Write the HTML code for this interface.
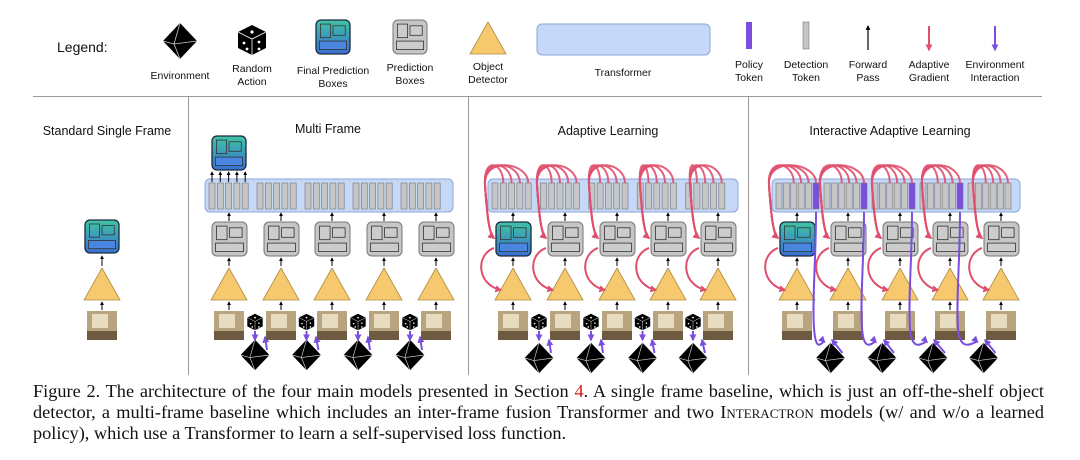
<!DOCTYPE html>
<html><head><meta charset="utf-8"><style>
html,body{margin:0;padding:0;background:#fff;}
svg{display:block;}
.s{font-family:"Liberation Sans",sans-serif;fill:#111;}
.cap{position:absolute;left:33px;width:1011px;top:381px;font-family:"Liberation Serif",serif;font-size:18.3px;line-height:21px;color:#111;}
.cap div{text-align:justify;text-align-last:justify;white-space:nowrap;}
.cap div.l{text-align-last:left;}
.sc{font-variant:small-caps;}
</style></head><body>
<div style="position:relative;width:1080px;height:460px;overflow:hidden">
<svg id="g" width="1080" height="460" viewBox="0 0 1080 460">
<defs>
<linearGradient id="fg" x1="0" y1="0" x2="0" y2="1"><stop offset="0" stop-color="#3fc4a4"/><stop offset="1" stop-color="#3a6fd0"/></linearGradient>
<marker id="ab" viewBox="0 0 10 10" refX="8" refY="5" markerWidth="4" markerHeight="4" orient="auto"><path d="M0,0L10,5L0,10z" fill="#000"/></marker>
<marker id="ap" viewBox="0 0 10 10" refX="8" refY="5" markerWidth="3.5" markerHeight="3.5" orient="auto"><path d="M0,0L10,5L0,10z" fill="#e0506e"/></marker>
<marker id="av" viewBox="0 0 10 10" refX="8" refY="5" markerWidth="3.5" markerHeight="3.5" orient="auto"><path d="M0,0L10,5L0,10z" fill="#7a4fe0"/></marker>
</defs>
<text class="s" x="57" y="52" font-size="14">Legend:</text>
<text class="s" x="180" y="79" font-size="10.5" text-anchor="middle">Environment</text>
<text class="s" x="252" y="72" font-size="10.5" text-anchor="middle">Random</text>
<text class="s" x="252" y="85" font-size="10.5" text-anchor="middle">Action</text>
<text class="s" x="333" y="74" font-size="10.5" text-anchor="middle">Final Prediction</text>
<text class="s" x="333" y="87" font-size="10.5" text-anchor="middle">Boxes</text>
<text class="s" x="410" y="71" font-size="10.5" text-anchor="middle">Prediction</text>
<text class="s" x="410" y="84" font-size="10.5" text-anchor="middle">Boxes</text>
<text class="s" x="488" y="70" font-size="10.5" text-anchor="middle">Object</text>
<text class="s" x="488" y="83" font-size="10.5" text-anchor="middle">Detector</text>
<text class="s" x="623" y="76" font-size="10.5" text-anchor="middle">Transformer</text>
<text class="s" x="749" y="68" font-size="10.5" text-anchor="middle">Policy</text>
<text class="s" x="749" y="81" font-size="10.5" text-anchor="middle">Token</text>
<text class="s" x="806" y="68" font-size="10.5" text-anchor="middle">Detection</text>
<text class="s" x="806" y="81" font-size="10.5" text-anchor="middle">Token</text>
<text class="s" x="868" y="68" font-size="10.5" text-anchor="middle">Forward</text>
<text class="s" x="868" y="81" font-size="10.5" text-anchor="middle">Pass</text>
<text class="s" x="929" y="68" font-size="10.5" text-anchor="middle">Adaptive</text>
<text class="s" x="929" y="81" font-size="10.5" text-anchor="middle">Gradient</text>
<text class="s" x="995" y="68" font-size="10.5" text-anchor="middle">Environment</text>
<text class="s" x="995" y="81" font-size="10.5" text-anchor="middle">Interaction</text>
<text class="s" x="107" y="135" font-size="12.5" text-anchor="middle">Standard Single Frame</text>
<text class="s" x="328" y="133" font-size="12.5" text-anchor="middle">Multi Frame</text>
<text class="s" x="608" y="135" font-size="12.5" text-anchor="middle">Adaptive Learning</text>
<text class="s" x="890" y="135" font-size="12.5" text-anchor="middle">Interactive Adaptive Learning</text>
<line x1="33" y1="96.5" x2="1042" y2="96.5" stroke="#999" stroke-width="1"/>
<line x1="188.5" y1="97" x2="188.5" y2="375" stroke="#999"/>
<line x1="468.5" y1="97" x2="468.5" y2="375" stroke="#999"/>
<line x1="748.5" y1="97" x2="748.5" y2="375" stroke="#999"/>
<g id="dyn"></g>
</svg>
<div class="cap"><div>Figure 2. The architecture of the four main models presented in Section <span style="color:#d02020">4</span>. A single frame baseline, which is just an off-the-shelf object</div><div>detector, a multi-frame baseline which includes an inter-frame fusion Transformer and two <span class="sc">Interactron</span> models (w/ and w/o a learned</div><div class="l">policy), which use a Transformer to learn a self-supervised loss function.</div></div>
</div>
<script>
var o='';
function env(x,y,s){s=s||1;o+='<g transform="translate('+x+','+y+') scale('+s+')"><path d="M0,-18L17,0L0,18L-17,0z" fill="#000"/><path d="M0,-18L-6,3L0,18M-6,3L17,0M-17,0L-6,3" stroke="#ccc" stroke-width="0.8" fill="none"/></g>';}
function dice(x,y,s){s=s||1;o+='<g transform="translate('+x+','+y+') scale('+s+')"><path d="M0,-15L14,-8L14,8L0,15L-14,8L-14,-8z" fill="#000"/><path d="M-14,-8L0,-1L14,-8M0,-1L0,15" stroke="#fff" stroke-width="0.8" fill="none"/><circle cx="0" cy="-8" r="1.6" fill="#fff"/><circle cx="-8" cy="3" r="1.4" fill="#fff"/><circle cx="-5" cy="9" r="1.4" fill="#fff"/><circle cx="7" cy="2" r="1.4" fill="#fff"/><circle cx="7" cy="9" r="1.4" fill="#fff"/></g>';}
function fbox(x,y,w,h){o+='<rect x="'+x+'" y="'+y+'" width="'+w+'" height="'+h+'" rx="5" fill="url(#fg)" stroke="#1a2a40" stroke-width="1.3"/>';box(x,y,w,h,'none');}
function pbox(x,y,w,h){o+='<rect x="'+x+'" y="'+y+'" width="'+w+'" height="'+h+'" rx="5" fill="#c6c6c6" stroke="#777" stroke-width="1"/>';box(x,y,w,h,'#ccc');}
function box(x,y,w,h,f){o+='<rect x="'+(x+w*0.13)+'" y="'+(y+h*0.12)+'" width="'+(w*0.3)+'" height="'+(h*0.4)+'" fill="'+f+'" stroke="#333" stroke-width="0.8"/><rect x="'+(x+w*0.5)+'" y="'+(y+h*0.17)+'" width="'+(w*0.36)+'" height="'+(h*0.28)+'" fill="'+f+'" stroke="#333" stroke-width="0.8"/><rect x="'+(x+w*0.1)+'" y="'+(y+h*0.62)+'" width="'+(w*0.8)+'" height="'+(h*0.25)+'" fill="'+(f=='none'?'#4a86e0':f)+'" stroke="#333" stroke-width="0.8"/>';}
function tri(cx,y,w,h){o+='<path d="M'+cx+','+y+'L'+(cx+w/2)+','+(y+h)+'L'+(cx-w/2)+','+(y+h)+'z" fill="#f6c96e" stroke="#b08a40" stroke-width="0.8"/>';}
function img(cx,y){o+='<rect x="'+(cx-15)+'" y="'+y+'" width="30" height="29" fill="#b8a47e"/><rect x="'+(cx-10)+'" y="'+(y+3)+'" width="16" height="14" fill="#e8dcc0"/><rect x="'+(cx-15)+'" y="'+(y+20)+'" width="30" height="9" fill="#6e5a40"/>';}
function ar(x1,y1,x2,y2,m,c,w){o+='<line x1="'+x1+'" y1="'+y1+'" x2="'+x2+'" y2="'+y2+'" stroke="'+c+'" stroke-width="'+w+'" marker-end="url(#'+m+')"/>';}
env(180,41);dice(252,40);fbox(316,20,34,34);pbox(393,20,34,34);tri(488,22,36,32);
o+='<rect x="537" y="24" width="173" height="31" rx="5" fill="#c5d8f8" stroke="#8aa6d8"/>';
o+='<rect x="746" y="22" width="6" height="27" fill="#7a4fe0"/><rect x="803" y="22" width="6" height="27" fill="#c6c6c6" stroke="#777" stroke-width="0.6"/>';
ar(868,50,868,26,'ab','#000',1.2);ar(929,26,929,50,'ap','#e0506e',2);ar(995,26,995,50,'av','#7a4fe0',2);
fbox(85,220,34,33);ar(102,266,102,256,'ab','#000',1);tri(102,268,36,32);ar(102,310,102,302,'ab','#000',1);img(102,311);
function panel(bx,bw,cols,pol,adapt,multi){
 o+='<rect x="'+bx+'" y="179" width="'+bw+'" height="33" rx="5" fill="#c5d8f8" stroke="#8aa6d8"/>';
 var n=pol?6:5, sp=pol?7.4:8.3;
 cols.forEach(function(cx,i){
  var gx=bx+4+i*(bw-8)/5;
  for(var k=0;k<n;k++){var px=gx+k*sp;
   o+='<rect x="'+px+'" y="183" width="6" height="26" fill="'+(pol&&k==5&&i<4?'#7a4fe0':'#c6c6c6')+'" stroke="#777" stroke-width="0.6"/>';}
  if(i==0&&adapt)fbox(cx-17,222,35,34);else pbox(cx-17,222,35,34);
  ar(cx,221,cx,213,'ab','#000',1);ar(cx,266,cx,258,'ab','#000',1);tri(cx,268,36,32);ar(cx,310,cx,302,'ab','#000',1);img(cx,311);
  if(i<4){var nx=cols[i+1];var dx=(cx+nx)/2+(pol?8:0), dy=multi?355:358;
   env(dx,dy,0.85);
   if(!pol){dice((cx+nx)/2,322,0.55);ar((cx+nx)/2,331,(cx+nx)/2,340,'av','#7a4fe0',2);}
   ar(dx+12,dy-5,nx-16,dy-18,'av','#7a4fe0',2);
   if(pol){var tx=gx+5*sp+3;o+='<path d="M'+tx+',212 C'+tx+',260 '+(tx-4)+',300 '+(tx-2)+',328 S'+(dx-8)+',340 '+(dx-6)+',342" stroke="#7a4fe0" stroke-width="2" fill="none" marker-end="url(#av)"/>';}
  }
  if(adapt){
   var c='#e0506e';
   for(var k=1;k<5;k++){var tx=gx+k*sp+3+(pol?sp:0);
    o+='<path d="M'+tx+',183 C'+tx+',162 '+(cx-30)+',156 '+(cx-28)+',185 S'+(cx-24)+',234 '+(cx-19)+',238" stroke="'+c+'" stroke-width="2" fill="none" opacity="0.9" marker-end="url(#ap)"/>';}
   o+='<path d="M'+(cx-19)+',248 C'+(cx-38)+',255 '+(cx-36)+',285 '+(cx-12)+',290" stroke="'+c+'" stroke-width="2" fill="none" marker-end="url(#ap)"/>';
  }
 });
 if(multi){for(var k=0;k<5;k++){var x=bx+7+k*sp;ar(x,182,x,172,'ab','#000',1);}}
}
panel(205,248,[229,281,332,384,436],false,false,true);
fbox(212,136,34,34);
panel(488,250,[513,565,617,668,718],false,true,false);
panel(772,248,[797,848,900,950,1001],true,true,false);
document.getElementById('dyn').innerHTML=o;
</script>
</body></html>
